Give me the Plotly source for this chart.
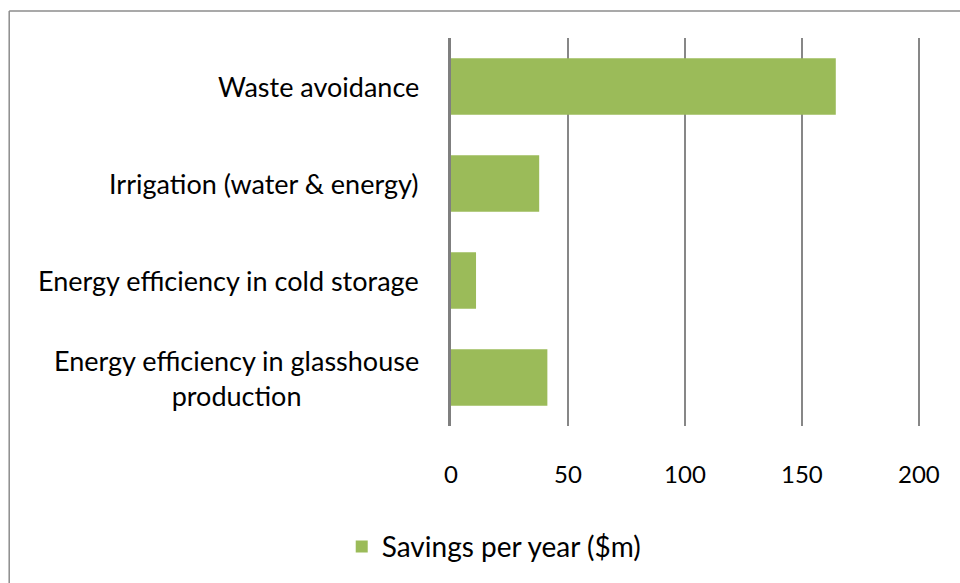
import plotly.graph_objects as go

categories = ["Waste avoidance", "Irrigation (water & energy)",
              "Energy efficiency in cold storage",
              "Energy efficiency in glasshouse<br>production"]
savings = [164.5, 37.7, 10.7, 41.2]
series_name = "Savings per year ($m)"
x_ticks = [0, 50, 100, 150, 200]

FONT = "Lato, Open Sans, sans-serif"

fig = go.Figure()
fig.add_trace(go.Bar(
    y=categories, x=savings, orientation="h", name=series_name,
    marker=dict(color="#9BBB59", line=dict(width=0)),
    showlegend=True,
))

for c in categories:
    fig.add_annotation(x=0, y=c, xref="x", yref="y", text=c, showarrow=False,
                       xanchor="right", align="center", xshift=-30,
                       font=dict(family=FONT, size=27, color="#000"))

# chart border (left and top edges visible)
fig.add_shape(type="line", xref="paper", yref="paper",
              x0=-0.942, x1=-0.942, y0=-0.7, y1=1.0694,
              line=dict(color="#8c8c8c", width=1.5), layer="below")
fig.add_shape(type="line", xref="paper", yref="paper",
              x0=-0.942, x1=1.3, y0=1.0694, y1=1.0694,
              line=dict(color="#8c8c8c", width=1.5), layer="below")

fig.update_layout(
    width=960, height=583,
    margin=dict(l=451, r=40, t=38, b=156),
    paper_bgcolor="white", plot_bgcolor="white",
    bargap=0.42,
    font=dict(family=FONT, size=24, color="#000"),
    xaxis=dict(range=[0, 200.5], tickvals=x_ticks, showgrid=True,
               gridcolor="#878787", gridwidth=2, zeroline=False,
               showline=False, ticklabelstandoff=32,
               tickfont=dict(family=FONT, size=24, color="#000")),
    yaxis=dict(autorange="reversed", showticklabels=False, showgrid=False,
               showline=True, linecolor="#7f7f7f", linewidth=3,
               zeroline=False),
    legend=dict(orientation="h", x=-0.233, xanchor="left", y=-0.308,
                yanchor="middle", font=dict(family=FONT, size=28),
                itemwidth=30),
)

fig.write_html("out.html", config={"displayModeBar": False},
               post_script="document.body.style.margin='0';"
                           "document.body.style.overflow='hidden';")
